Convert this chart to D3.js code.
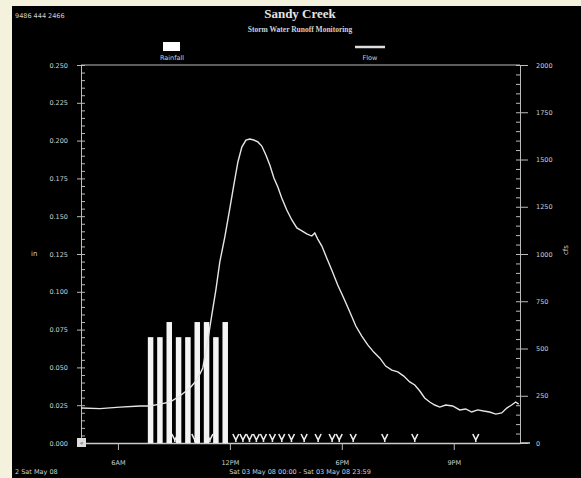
<!DOCTYPE html>
<html>
<head>
<meta charset="utf-8">
<script src="https://cdn.jsdelivr.net/npm/d3@7"></script>
<style>
  body { margin: 0; background: #f4f1dc; }
  svg { display: block; }
  text { fill: #d0d0d0; }
</style>
</head>
<body>
<svg id="chart" width="581" height="478"></svg>
<script>
// rainfall (in per half hour), time in hours from midnight Sat 03 May 08
const rainHours = [7.75, 8.25, 8.75, 9.25, 9.75, 10.25, 10.75, 11.25, 11.75];
const rainInches = [0.07, 0.07, 0.08, 0.07, 0.07, 0.08, 0.08, 0.07, 0.08];

// tiny rainfall marks along the base
const traceHours = [9.05, 10.12, 10.93, 12.32, 12.70, 13.05, 13.42, 13.80, 14.28, 14.78, 15.30, 15.98, 16.73, 17.48, 17.86, 18.61, 20.30, 21.91, 25.18];

// flow (cfs)
const flowHours = [4.02, 5.04, 6.11, 7.18, 7.71, 8.25, 8.79, 9.32, 9.86, 10.23, 10.55, 10.82, 11.03, 11.25, 11.46, 11.73, 12.00, 12.21, 12.43, 12.64, 12.86, 13.07, 13.28, 13.50, 13.71, 13.93, 14.14, 14.36, 14.57, 14.78, 15.05, 15.32, 15.59, 15.86, 16.12, 16.39, 16.55, 16.71, 16.93, 17.19, 17.46, 17.78, 18.10, 18.43, 18.75, 19.07, 19.39, 19.71, 20.03, 20.35, 20.68, 21.00, 21.32, 21.64, 21.91, 22.18, 22.44, 22.71, 22.98, 23.25, 23.57, 23.94, 24.32, 24.64, 24.96, 25.28, 25.60, 25.92, 26.25, 26.57, 26.84, 27.10, 27.32, 27.48];
const flowCfs = [185, 182, 190, 196, 196, 206, 217, 249, 291, 333, 397, 545, 677, 810, 958, 1090, 1243, 1365, 1487, 1566, 1603, 1608, 1603, 1593, 1571, 1524, 1471, 1402, 1354, 1296, 1233, 1180, 1138, 1122, 1106, 1095, 1111, 1079, 1042, 979, 915, 836, 767, 693, 619, 566, 519, 481, 450, 407, 386, 376, 354, 323, 307, 275, 238, 217, 201, 190, 201, 196, 175, 180, 164, 175, 169, 164, 153, 159, 185, 201, 217, 206];

const xTicks = [6, 12, 18, 24];
const xTickLabels = ["6AM", "12PM", "6PM", "9PM"];
const leftTicks = [0, 0.025, 0.05, 0.075, 0.1, 0.125, 0.15, 0.175, 0.2, 0.225, 0.25];
const rightTicks = [0, 250, 500, 750, 1000, 1250, 1500, 1750, 2000];

const svg = d3.select("#chart");
svg.append("rect").attr("x", 12).attr("y", 6).attr("width", 569).attr("height", 472).attr("fill", "#000");

const plotL = 81, plotR = 520, plotT = 65, plotB = 443;
const sans = "DejaVu Sans, sans-serif";
const serif = "Liberation Serif, DejaVu Serif, serif";

const x = d3.scaleLinear().domain([4.02, 27.55]).range([plotL, plotR]);
const yL = d3.scaleLinear().domain([0, 0.25]).range([plotB, plotT]);
const yR = d3.scaleLinear().domain([0, 2000]).range([plotB, plotT]);

function label(xp, yp, txt, size, anchor) {
  return svg.append("text").attr("x", xp).attr("y", yp).attr("text-anchor", anchor || "start")
    .style("font-family", sans).style("font-size", size + "px").text(txt);
}

// titles
label(15, 18, "9486 444 2466", 6.5);
svg.append("text").attr("x", 300).attr("y", 18).attr("text-anchor", "middle")
  .style("font-family", serif).style("font-weight", "bold").style("font-size", "13px")
  .style("fill", "#e4e4e4").text("Sandy Creek");
svg.append("text").attr("x", 300).attr("y", 32).attr("text-anchor", "middle")
  .style("font-family", serif).style("font-weight", "bold").style("font-size", "7.5px")
  .text("Storm Water Runoff Monitoring");

// legend
svg.append("rect").attr("x", 163).attr("y", 42).attr("width", 17).attr("height", 9).attr("fill", "#fff");
label(172, 60, "Rainfall", 6.5, "middle");
svg.append("line").attr("x1", 355).attr("x2", 385).attr("y1", 47).attr("y2", 47)
  .attr("stroke", "#ddd").attr("stroke-width", 2.5);
label(370, 60, "Flow", 6.5, "middle");

function styleAxis(g) {
  g.selectAll("path.domain").attr("stroke", "#bbb");
  g.selectAll("line").attr("stroke", "#bbb");
  g.selectAll("text").style("font-family", sans).style("font-size", "6.5px").style("fill", "#cfcfcf");
}

// left axis
const gL = svg.append("g").attr("transform", `translate(${plotL},0)`);
gL.call(d3.axisLeft(yL).tickValues(leftTicks).tickFormat(d3.format(".3f")).tickSize(4).tickPadding(9));
gL.append("g").call(d3.axisRight(yL).ticks(50).tickSize(4).tickFormat(""));
styleAxis(gL);

// right axis
const gR = svg.append("g").attr("transform", `translate(${plotR},0)`);
gR.call(d3.axisRight(yR).tickValues(rightTicks).tickFormat(d3.format("d")).tickSize(8).tickPadding(8));
gR.append("g").call(d3.axisLeft(yR).ticks(40).tickSize(4).tickFormat(""));
styleAxis(gR);

// top frame
svg.append("line").attr("x1", plotL).attr("x2", plotR).attr("y1", plotT).attr("y2", plotT).attr("stroke", "#bbb");

// bottom axis
const gB = svg.append("g").attr("transform", `translate(0,${plotB})`);
gB.call(d3.axisBottom(x).tickValues(xTicks).tickFormat((d, i) => xTickLabels[i]).tickSize(7).tickPadding(10).tickSizeOuter(0));
styleAxis(gB);
gB.selectAll("path.domain").attr("stroke", "#ccc").attr("stroke-width", 1.5);
svg.append("line").attr("x1", plotR).attr("x2", 530).attr("y1", plotB).attr("y2", plotB).attr("stroke", "#ccc").attr("stroke-width", 1.5);

// axis titles
label(31, 256, "in", 7);
svg.append("text").attr("transform", "translate(568,250) rotate(-90)").attr("text-anchor", "middle")
  .style("font-family", sans).style("font-size", "7px").text("cfs");

// rainfall bars
svg.selectAll(".rain").data(rainHours).enter().append("rect")
  .attr("x", d => x(d) - 2.75)
  .attr("width", 5.5)
  .attr("y", (d, i) => yL(rainInches[i]))
  .attr("height", (d, i) => plotB - yL(rainInches[i]))
  .attr("fill", "#f4f4f4");

// trace marks
svg.selectAll(".trace").data(traceHours).enter().append("path")
  .attr("d", d => {
    const cx = x(d);
    return `M${cx - 3},${plotB - 9} L${cx},${plotB - 3} L${cx + 3},${plotB - 9} M${cx},${plotB - 3} L${cx},${plotB - 1}`;
  })
  .attr("stroke", "#eee").attr("stroke-width", 1.6).attr("fill", "none");

// flow line
const line = d3.line().x(d => x(d[0])).y(d => yR(d[1]));
svg.append("path").datum(flowHours.map((h, i) => [h, flowCfs[i]]))
  .attr("d", line).attr("fill", "none").attr("stroke", "#e6e6e6").attr("stroke-width", 1.4);

// bottom-left button
svg.append("rect").attr("x", 77).attr("y", 438).attr("width", 9).attr("height", 9).attr("fill", "#ddd");
svg.append("text").attr("x", 81.5).attr("y", 445).attr("text-anchor", "middle")
  .style("font-family", sans).style("font-size", "6px").style("fill", "#333").text("«");

// footer
label(15, 474, "2 Sat May 08", 6.5);
label(300, 474, "Sat 03 May 08 00:00 - Sat 03 May 08 23:59", 6.5, "middle");
</script>
</body>
</html>
